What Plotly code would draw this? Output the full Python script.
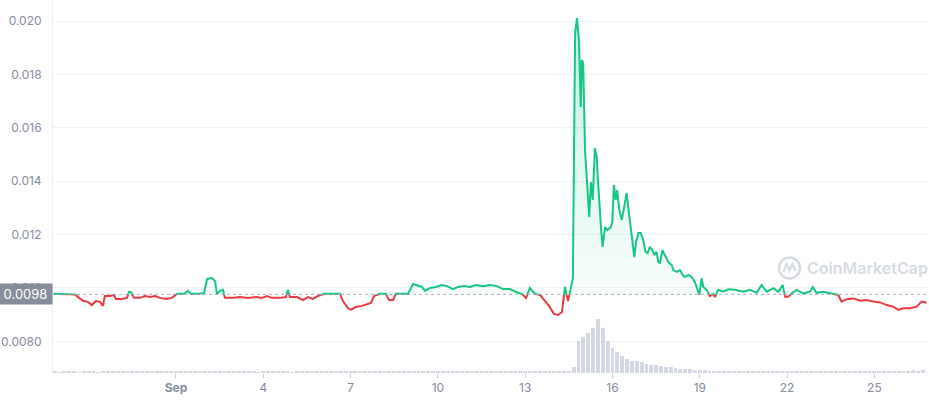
import plotly.graph_objects as go
import pandas as pd

# ---------------- data ----------------
times = [
    "2023-08-27 19:00", "2023-08-28 04:30", "2023-08-28 12:40", "2023-08-28 16:00", "2023-08-28 20:00",
    "2023-08-28 23:20", "2023-08-29 02:40", "2023-08-29 06:00", "2023-08-29 09:20", "2023-08-29 11:50",
    "2023-08-29 13:20", "2023-08-29 17:40", "2023-08-29 20:50", "2023-08-29 22:30", "2023-08-30 03:30",
    "2023-08-30 07:40", "2023-08-30 09:10", "2023-08-30 10:50", "2023-08-30 13:20", "2023-08-30 18:20",
    "2023-08-30 22:20", "2023-08-31 02:40", "2023-08-31 06:40", "2023-08-31 10:50", "2023-08-31 15:50",
    "2023-08-31 20:40", "2023-09-01 00:50", "2023-09-01 06:40", "2023-09-01 09:50", "2023-09-01 12:20",
    "2023-09-01 18:10", "2023-09-01 23:10", "2023-09-02 01:40", "2023-09-02 05:40", "2023-09-02 08:10",
    "2023-09-02 09:50", "2023-09-02 12:20", "2023-09-02 14:50", "2023-09-02 16:20", "2023-09-02 22:10",
    "2023-09-03 04:50", "2023-09-03 11:20", "2023-09-03 18:00", "2023-09-03 22:50", "2023-09-04 03:00",
    "2023-09-04 07:10", "2023-09-04 13:50", "2023-09-04 18:40", "2023-09-04 20:20", "2023-09-04 22:00",
    "2023-09-05 03:50", "2023-09-05 08:40", "2023-09-05 12:50", "2023-09-05 17:00", "2023-09-05 21:10",
    "2023-09-06 02:10", "2023-09-06 08:40", "2023-09-06 15:20", "2023-09-06 17:40", "2023-09-06 21:50",
    "2023-09-07 00:20", "2023-09-07 04:20", "2023-09-07 09:20", "2023-09-07 13:30", "2023-09-07 16:50",
    "2023-09-07 19:20", "2023-09-08 00:10", "2023-09-08 05:10", "2023-09-08 07:40", "2023-09-08 11:00",
    "2023-09-08 13:20", "2023-09-08 18:20", "2023-09-08 23:20", "2023-09-09 03:30", "2023-09-09 07:40",
    "2023-09-09 10:50", "2023-09-09 13:20", "2023-09-09 17:30", "2023-09-09 22:20", "2023-09-10 03:20",
    "2023-09-10 07:30", "2023-09-10 12:20", "2023-09-10 16:40", "2023-09-10 21:30", "2023-09-11 02:30",
    "2023-09-11 07:20", "2023-09-11 13:10", "2023-09-11 19:00", "2023-09-12 00:40", "2023-09-12 05:40",
    "2023-09-12 11:30", "2023-09-12 16:20", "2023-09-12 21:20", "2023-09-13 00:40", "2023-09-13 03:50",
    "2023-09-13 08:10", "2023-09-13 12:10", "2023-09-13 15:30", "2023-09-13 19:40", "2023-09-13 23:40",
    "2023-09-14 03:00", "2023-09-14 06:20", "2023-09-14 08:50", "2023-09-14 11:20", "2023-09-14 13:50",
    "2023-09-14 15:20", "2023-09-14 17:10", "2023-09-14 18:40", "2023-09-14 20:20", "2023-09-14 21:50",
    "2023-09-14 22:40", "2023-09-14 23:50", "2023-09-15 01:20", "2023-09-15 02:40", "2023-09-15 04:00",
    "2023-09-15 04:50", "2023-09-15 06:10", "2023-09-15 07:40", "2023-09-15 09:30", "2023-09-15 11:00",
    "2023-09-15 11:50", "2023-09-15 13:10", "2023-09-15 14:30", "2023-09-15 15:50", "2023-09-15 17:50",
    "2023-09-15 19:40", "2023-09-15 22:40", "2023-09-15 23:50", "2023-09-16 01:10", "2023-09-16 02:40",
    "2023-09-16 03:50", "2023-09-16 05:40", "2023-09-16 07:40", "2023-09-16 09:30", "2023-09-16 11:40",
    "2023-09-16 13:00", "2023-09-16 15:00", "2023-09-16 16:40", "2023-09-16 18:00", "2023-09-16 19:20",
    "2023-09-16 21:20", "2023-09-16 23:10", "2023-09-17 01:20", "2023-09-17 03:20", "2023-09-17 05:00",
    "2023-09-17 06:50", "2023-09-17 08:50", "2023-09-17 10:30", "2023-09-17 12:20", "2023-09-17 13:50",
    "2023-09-17 15:10", "2023-09-17 17:10", "2023-09-17 19:20", "2023-09-17 22:00", "2023-09-18 00:50",
    "2023-09-18 02:10", "2023-09-18 05:00", "2023-09-18 07:40", "2023-09-18 09:50", "2023-09-18 11:50",
    "2023-09-18 14:30", "2023-09-18 17:20", "2023-09-18 20:00", "2023-09-18 22:50", "2023-09-18 23:40",
    "2023-09-19 01:30", "2023-09-19 02:50", "2023-09-19 05:40", "2023-09-19 08:20", "2023-09-19 11:10",
    "2023-09-19 12:30", "2023-09-19 15:10", "2023-09-19 19:20", "2023-09-19 23:30", "2023-09-20 05:00",
    "2023-09-20 11:50", "2023-09-20 17:20", "2023-09-20 22:50", "2023-09-21 03:00", "2023-09-21 07:10",
    "2023-09-21 12:40", "2023-09-21 16:40", "2023-09-21 20:20", "2023-09-21 22:20", "2023-09-22 01:00",
    "2023-09-22 03:50", "2023-09-22 07:50", "2023-09-22 13:20", "2023-09-22 18:50", "2023-09-22 21:10",
    "2023-09-23 00:20", "2023-09-23 05:50", "2023-09-23 11:20", "2023-09-23 18:10", "2023-09-23 21:00",
    "2023-09-24 01:10", "2023-09-24 06:40", "2023-09-24 12:10", "2023-09-24 17:40", "2023-09-24 23:10",
    "2023-09-25 04:40", "2023-09-25 10:10", "2023-09-25 15:40", "2023-09-25 19:40", "2023-09-25 23:50",
    "2023-09-26 05:20", "2023-09-26 10:50", "2023-09-26 15:00", "2023-09-26 19:10",
]

prices = [
    0.00978, 0.00978, 0.00976, 0.00963, 0.00951,
    0.00948, 0.00936, 0.00951, 0.00948, 0.00933,
    0.00970, 0.00970, 0.00974, 0.00959, 0.00959,
    0.00963, 0.00985, 0.00985, 0.00963, 0.00963,
    0.00970, 0.00966, 0.00970, 0.00963, 0.00959,
    0.00963, 0.00978, 0.00978, 0.00989, 0.00978,
    0.00978, 0.00981, 0.01034, 0.01037, 0.01026,
    0.00978, 0.00989, 0.00993, 0.00963, 0.00963,
    0.00966, 0.00963, 0.00966, 0.00963, 0.00970,
    0.00963, 0.00963, 0.00966, 0.00993, 0.00966,
    0.00966, 0.00955, 0.00966, 0.00959, 0.00970,
    0.00978, 0.00978, 0.00978, 0.00951, 0.00925,
    0.00918, 0.00929, 0.00933, 0.00940, 0.00944,
    0.00970, 0.00978, 0.00978, 0.00955, 0.00955,
    0.00978, 0.00978, 0.00978, 0.01015, 0.01007,
    0.01004, 0.00989, 0.01000, 0.01004, 0.01011,
    0.01007, 0.00996, 0.01004, 0.01007, 0.01004,
    0.01011, 0.01007, 0.01011, 0.01007, 0.00996,
    0.00996, 0.00985, 0.00978, 0.00963, 0.01000,
    0.00978, 0.00974, 0.00955, 0.00933, 0.00903,
    0.00899, 0.00910, 0.01004, 0.00951, 0.01004,
    0.01037, 0.01955, 0.02011, 0.01929, 0.01678,
    0.01854, 0.01843, 0.01517, 0.01431, 0.01356,
    0.01266, 0.01397, 0.01330, 0.01524, 0.01491,
    0.01416, 0.01303, 0.01228, 0.01154, 0.01228,
    0.01217, 0.01228, 0.01247, 0.01386, 0.01330,
    0.01367, 0.01292, 0.01255, 0.01300, 0.01356,
    0.01303, 0.01228, 0.01180, 0.01116, 0.01169,
    0.01206, 0.01206, 0.01180, 0.01135, 0.01131,
    0.01154, 0.01142, 0.01124, 0.01135, 0.01097,
    0.01094, 0.01142, 0.01124, 0.01097, 0.01086,
    0.01067, 0.01060, 0.01067, 0.01049, 0.01041,
    0.01049, 0.01041, 0.01022, 0.00981, 0.00974,
    0.01037, 0.01004, 0.00993, 0.00970, 0.00978,
    0.00966, 0.00993, 0.00986, 0.00995, 0.00993,
    0.00986, 0.00993, 0.00982, 0.01011, 0.00986,
    0.00999, 0.00986, 0.01011, 0.00967, 0.00967,
    0.00980, 0.00993, 0.00980, 0.00986, 0.01003,
    0.00982, 0.00986, 0.00980, 0.00974, 0.00949,
    0.00958, 0.00961, 0.00952, 0.00955, 0.00949,
    0.00946, 0.00936, 0.00930, 0.00918, 0.00924,
    0.00924, 0.00930, 0.00949, 0.00945,
]

ref_price = 0.00976          # opening price of the period (dotted line)
ref_label = "0.0098"

# 4-hour volume bars (millions), first bar at vol_start
vol_start = "2023-08-27 20:00"
vol_pre = [
    0.05, 0.04, 0.05, 0.06, 0.05, 0.04,
    0.05, 0.06, 0.05, 0.04, 0.05, 0.06,
    0.07, 0.06, 0.05, 0.06, 0.07, 0.06,
    0.06, 0.05, 0.06, 0.07, 0.08, 0.07,
    0.06, 0.06, 0.05, 0.06, 0.07, 0.06,
    0.05, 0.06, 0.07, 0.08, 0.09, 0.07,
    0.06, 0.06, 0.05, 0.05, 0.06, 0.05,
    0.04, 0.05, 0.06, 0.05, 0.05, 0.06,
    0.05, 0.04, 0.05, 0.06, 0.05, 0.05,
    0.06, 0.07, 0.06, 0.05, 0.06, 0.06,
    0.05, 0.06, 0.07, 0.06, 0.06, 0.05,
    0.05, 0.06, 0.05, 0.06, 0.07, 0.06,
    0.06, 0.05, 0.06, 0.05, 0.06, 0.05,
    0.05, 0.06, 0.06, 0.07, 0.06, 0.05,
    0.06, 0.05, 0.06, 0.06, 0.07, 0.06,
    0.06, 0.07, 0.08, 0.07, 0.06, 0.07,
    0.07, 0.08, 0.07, 0.06, 0.08, 0.09,
    0.08, 0.07, 0.08, 0.09, 0.10,
]
vol_post = [
    0.24, 1.29, 1.45, 1.61, 1.81, 2.17, 1.81, 1.29, 1.00, 0.84,
    0.68, 0.56, 0.48, 0.48, 0.44, 0.38, 0.34, 0.32, 0.28, 0.26,
    0.24, 0.20, 0.18, 0.16, 0.15, 0.13, 0.12, 0.11, 0.10, 0.10,
    0.09, 0.09, 0.08, 0.08, 0.08, 0.07, 0.07, 0.07, 0.06, 0.07,
    0.06, 0.06, 0.07, 0.06, 0.06, 0.05, 0.06, 0.06, 0.07, 0.06,
    0.05, 0.06, 0.06, 0.05, 0.06, 0.07, 0.06, 0.06, 0.05, 0.06,
    0.06, 0.07, 0.07, 0.06, 0.07, 0.08, 0.07, 0.08, 0.09, 0.10,
    0.11, 0.10, 0.12,
]

ytick_vals = [0.008, 0.010, 0.012, 0.014, 0.016, 0.018, 0.020]
ytick_text = ["0.0080", "0.010", "0.012", "0.014", "0.016", "0.018", "0.020"]
xtick_vals = ["2023-09-01", "2023-09-04", "2023-09-07", "2023-09-10", "2023-09-13",
              "2023-09-16", "2023-09-19", "2023-09-22", "2023-09-25"]
xtick_text = ["<b>Sep</b>", "4", "7", "10", "13", "16", "19", "22", "25"]

# ---------------- layout constants ----------------
W, H = 929, 400
ML, MR, MT, MB = 53, 1, 0, 27
Y_MIN, Y_MAX = 0.006816, 0.020787
X_RANGE = ["2023-08-27 18:35", "2023-09-26 20:12"]
GREEN = "#16c784"
RED = "#ea3943"
GREY_TXT = "#858ca0"
FONT = "Inter, Noto Sans, sans-serif"

volumes = vol_pre + vol_post
vol_times = pd.date_range(vol_start, periods=len(volumes), freq="4h")
split = (ref_price - Y_MIN) / (Y_MAX - Y_MIN)

fig = go.Figure()

# dotted reference line on the main axis
fig.add_trace(go.Scatter(
    x=X_RANGE, y=[ref_price, ref_price], mode="lines",
    line=dict(color="#aab1bf", width=1, dash="dot"),
    hoverinfo="skip", showlegend=False, yaxis="y"))

# volume bars
fig.add_trace(go.Bar(
    x=vol_times, y=volumes, yaxis="y4",
    marker=dict(color="#d3d8e2", line=dict(width=0)),
    width=4 * 3600 * 1000 * 0.8, showlegend=False, hoverinfo="skip"))

# red part: below the reference price
fig.add_trace(go.Scatter(
    x=times, y=prices, mode="lines", yaxis="y2",
    line=dict(color=RED, width=2), showlegend=False))

# green part: above the reference price, with a gradient fill
fig.add_trace(go.Scatter(
    x=times, y=prices, mode="lines", yaxis="y3",
    line=dict(color=GREEN, width=2), fill="tozeroy",
    fillgradient=dict(type="vertical", start=ref_price, stop=max(prices),
                      colorscale=[[0, "rgba(22,199,132,0.03)"],
                                  [1, "rgba(22,199,132,0.24)"]]),
    showlegend=False))

def px_x(p):
    return (p - ML) / (W - ML - MR)

def px_y(p):
    return (H - MB - p) / (H - MT - MB)

shapes = [
    dict(type="circle", xref="paper", yref="paper",
         x0=px_x(779), x1=px_x(800), y0=px_y(278.5), y1=px_y(257.5),
         line=dict(color="#d6dae2", width=2.6)),
    dict(type="path", xref="paper", yref="paper",
         path=(f"M {px_x(783.5)} {px_y(272)} L {px_x(786.5)} {px_y(264)} "
               f"L {px_x(789.5)} {px_y(270.5)} L {px_x(792.5)} {px_y(264)} "
               f"L {px_x(795.5)} {px_y(271)}"),
         line=dict(color="#d6dae2", width=2.4)),
]

annotations = [
    dict(xref="paper", x=0, xanchor="right", yref="y", y=ref_price, yanchor="middle",
         text=ref_label, showarrow=False, bgcolor="#868d9a",
         font=dict(family=FONT, size=13, color="white"),
         width=49, height=16, borderpad=2, align="center"),
    dict(xref="paper", yref="paper", x=px_x(867), y=px_y(268),
         xanchor="center", yanchor="middle", text="CoinMarketCap", showarrow=False,
         font=dict(family=FONT, size=16, color="#d6dae2", weight=600)),
]

fig.update_layout(
    width=W, height=H,
    margin=dict(l=ML, r=MR, t=MT, b=MB, autoexpand=False),
    paper_bgcolor="white", plot_bgcolor="rgba(0,0,0,0)",
    font=dict(family=FONT, size=12, color=GREY_TXT),
    showlegend=False, bargap=0,
    xaxis=dict(type="date", range=X_RANGE, tickvals=xtick_vals, ticktext=xtick_text,
               ticks="outside", ticklen=4, tickcolor="#c3c8d2", tickwidth=1,
               showgrid=False, zeroline=False, showline=False, automargin=False,
               tickfont=dict(family=FONT, size=12, color=GREY_TXT), anchor="y"),
    yaxis=dict(range=[Y_MIN, Y_MAX], tickvals=ytick_vals, ticktext=ytick_text,
               showgrid=True, gridcolor="#f1f2f4", gridwidth=1, zeroline=False,
               showline=True, linecolor="#eceef2", linewidth=1, ticks="",
               ticklabelstandoff=8, automargin=False,
               tickfont=dict(family=FONT, size=12, color=GREY_TXT), domain=[0, 1]),
    yaxis2=dict(range=[Y_MIN, ref_price], domain=[0, split], anchor="x",
                visible=False, showgrid=False, zeroline=False),
    yaxis3=dict(range=[ref_price, Y_MAX], domain=[split, 1], anchor="x",
                visible=False, showgrid=False, zeroline=False),
    yaxis4=dict(range=[0, 15], overlaying="y", visible=False,
                showgrid=False, zeroline=False),
    shapes=shapes, annotations=annotations,
)

# the page's default 8px body margin would shift the chart inside the window
fig.write_html("out.html",
               config={"displayModeBar": False},
               post_script="document.body.style.margin='0';document.body.style.overflow='hidden';")
